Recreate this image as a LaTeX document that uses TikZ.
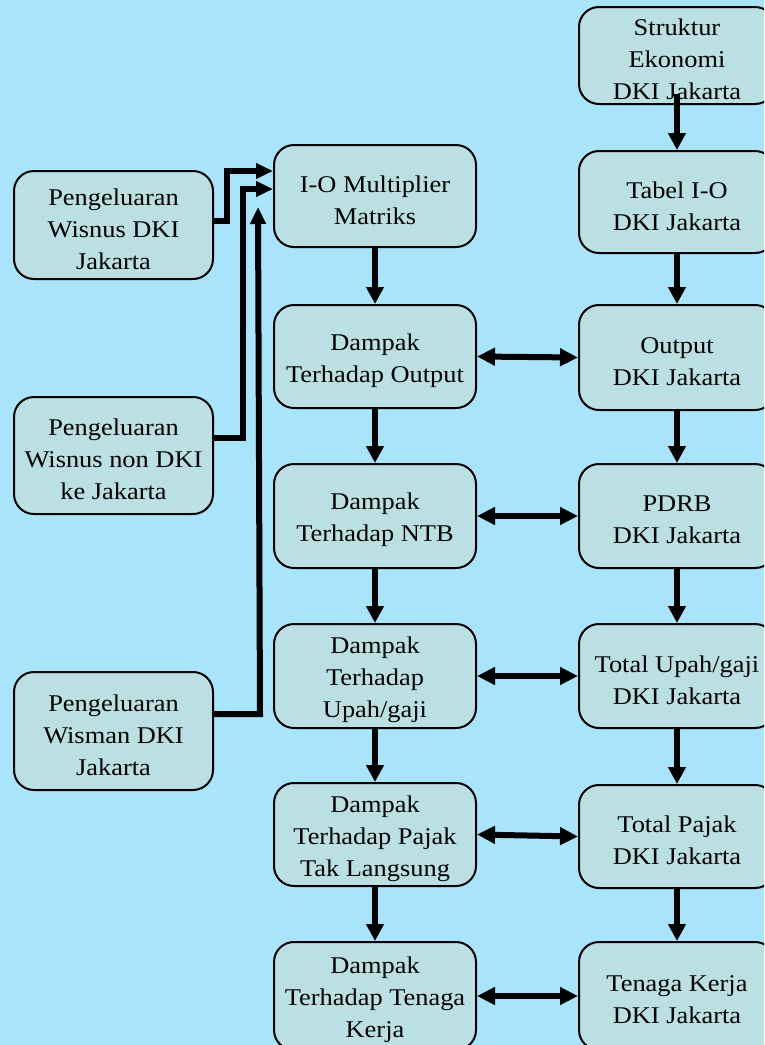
\documentclass[tikz,border=0pt]{standalone}
\usepackage{fontspec}
\setmainfont{Liberation Serif}[FakeStretch=1.1]
\usetikzlibrary{arrows.meta}
\definecolor{bgblue}{RGB}{168,228,252}
\definecolor{boxfill}{RGB}{186,224,228}
\tikzset{
  boxtext/.style={align=center, inner sep=0pt, font=\fontsize{24}{32}\selectfont, yshift=-4pt},
  box/.style={draw=black, line width=2pt, fill=boxfill, rounded corners=20pt,
    inner sep=0pt, label={[boxtext]center:#1}},
  lbox/.style={box=#1, minimum width=199pt},
  mbox/.style={box=#1, minimum width=202pt},
  rbox/.style={box=#1, minimum width=196pt},
  arr/.style={line width=6pt, -{Triangle[length=17pt,width=17pt]}},
  larr/.style={line width=6pt, -{Triangle[length=17pt,width=15pt]}},
  darr/.style={line width=6pt, {Triangle[length=18pt,width=17pt]}-{Triangle[length=18pt,width=17pt]}}
}
\begin{document}
\begin{tikzpicture}[x=1pt,y=-1pt]
\useasboundingbox (0,0) rectangle (764,1045);
\fill[bgblue] (0,0) rectangle (764,1045);
\clip (0,0) rectangle (764,1045);
% left column
\node[lbox={Pengeluaran\\Wisnus DKI\\Jakarta}, minimum height=108pt] (l1) at (113.5,225) {};
\node[lbox={Pengeluaran\\Wisnus non DKI\\ke Jakarta}, minimum height=117pt] (l2) at (113.5,455.5) {};
\node[lbox={Pengeluaran\\Wisman DKI\\Jakarta}, minimum height=118pt] (l3) at (113.5,731) {};
% middle column
\node[mbox={I-O Multiplier\\Matriks}, minimum height=102pt] (m1) at (375,196) {};
\node[mbox={Dampak\\Terhadap Output}, minimum height=103pt] (m2) at (375,356.5) {};
\node[mbox={Dampak\\Terhadap NTB}, minimum height=104pt] (m3) at (375,516) {};
\node[mbox={Dampak\\Terhadap\\Upah/gaji}, minimum height=104pt] (m4) at (375,676) {};
\node[mbox={Dampak\\Terhadap Pajak\\Tak Langsung}, minimum height=103pt] (m5) at (375,834.5) {};
\node[mbox={Dampak\\Terhadap Tenaga\\Kerja}, minimum height=108pt] (m6) at (375,996) {};
% right column
\node[rbox={Struktur\\Ekonomi\\DKI Jakarta}, minimum height=97pt] (r1) at (677,55.5) {};
\node[rbox={Tabel I-O\\DKI Jakarta}, minimum height=102pt] (r2) at (677,202) {};
\node[rbox={Output\\DKI Jakarta}, minimum height=105pt] (r3) at (677,357.5) {};
\node[rbox={PDRB\\DKI Jakarta}, minimum height=104pt] (r4) at (677,516) {};
\node[rbox={Total Upah/gaji\\DKI Jakarta}, minimum height=104pt] (r5) at (677,676) {};
\node[rbox={Total Pajak\\DKI Jakarta}, minimum height=103pt] (r6) at (677,836.5) {};
\node[rbox={Tenaga Kerja\\DKI Jakarta}, minimum height=108pt] (r7) at (677,996) {};
% vertical arrows middle
\draw[arr] (m1.south) -- (m2.north);
\draw[arr] (m2.south) -- (m3.north);
\draw[arr] (m3.south) -- (m4.north);
\draw[arr] (m4.south) -- (m5.north);
\draw[arr] (m5.south) -- (m6.north);
% vertical arrows right
\draw[arr] ([yshift=11pt]r1.south) -- (r2.north);
\draw[arr] (r2.south) -- (r3.north);
\draw[arr] (r3.south) -- (r4.north);
\draw[arr] (r4.south) -- (r5.north);
\draw[arr] (r5.south) -- (r6.north);
\draw[arr] (r6.south) -- (r7.north);
% double arrows
\draw[darr] (m2.east) -- (r3.west);
\draw[darr] (m3.east) -- (r4.west);
\draw[darr] (m4.east) -- (r5.west);
\draw[darr] (m5.east) -- (r6.west);
\draw[darr] (m6.east) -- (r7.west);
% left connectors
\draw[larr] ([yshift=4pt]l1.east) -- ++(13,0) |- ([yshift=25pt]m1.west);
\draw[larr] ([yshift=17.5pt]l2.east) -- ++(29,0) |- ([yshift=7pt]m1.west);
\draw[larr] ([yshift=17pt]l3.east) -- ++(46,0) -- ([xshift=-15pt,yshift=-11pt]m1.west);
\end{tikzpicture}
\end{document}
